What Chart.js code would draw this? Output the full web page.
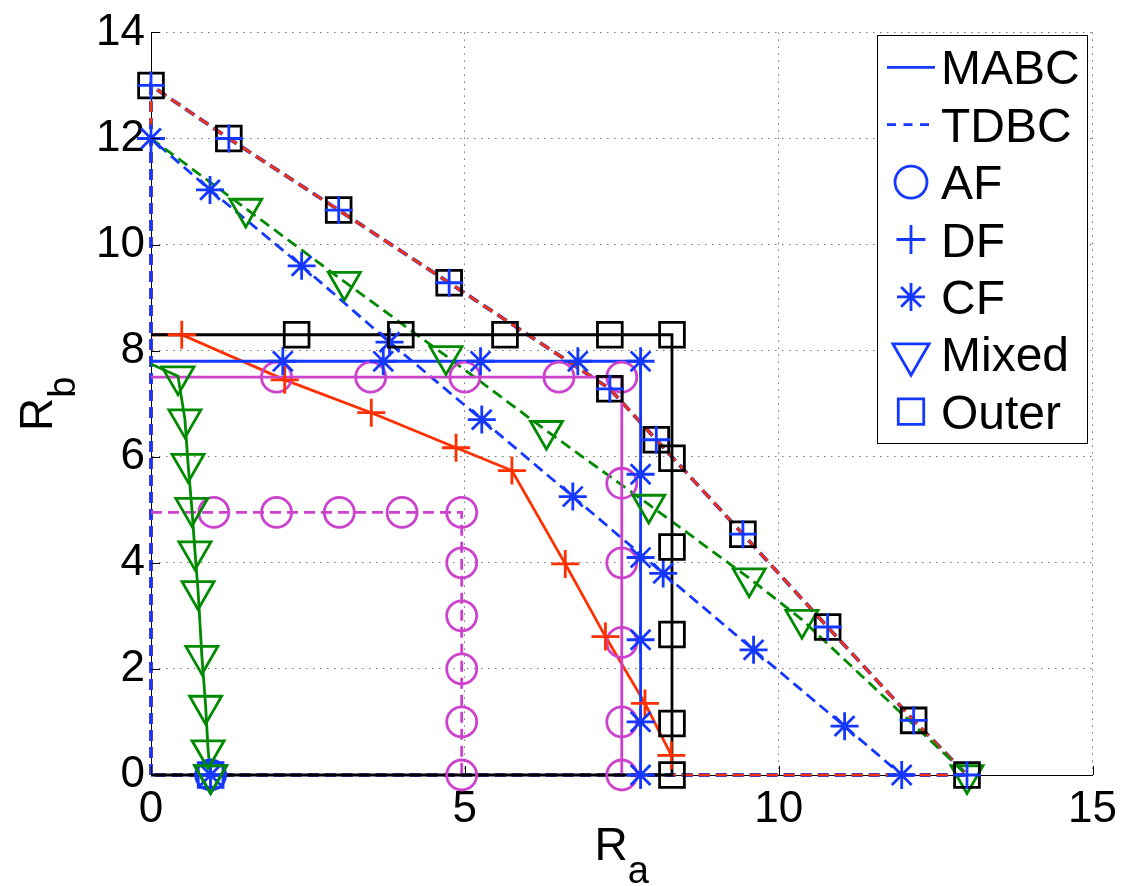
<!DOCTYPE html>
<html>
<head>
<meta charset="utf-8">
<script src="https://cdn.jsdelivr.net/npm/chart.js@4.4.1/dist/chart.umd.min.js"></script>
<style>
  html, body { margin: 0; padding: 0; background: #fff; }
  #wrap { width: 1125px; height: 886px; }
</style>
</head>
<body>
<div id="wrap"><canvas id="c" width="1125" height="886"></canvas></div>
<script>
// ---- axis ticks ----
const xTicks = [0, 5, 10, 15];
const yTicks = [0, 2, 4, 6, 8, 10, 12, 14];

// ---- MABC rate regions (solid lines) ----
const afMabcPath = [[0, 7.5], [7.5, 7.5], [7.5, 0]];
const afMabcPts = [[2, 7.5], [3.5, 7.5], [5, 7.5], [6.5, 7.5], [7.5, 7.5],
                   [7.5, 5.5], [7.5, 4], [7.5, 2.5], [7.5, 1], [7.5, 0]];

const cfMabcPath = [[0, 7.8], [7.8, 7.8], [7.8, 0]];
const cfMabcPts = [[2.1, 7.8], [3.7, 7.8], [5.25, 7.8], [6.8, 7.8], [7.8, 7.8],
                   [7.8, 5.67], [7.8, 4.1], [7.8, 2.55], [7.8, 1.0], [7.8, 0]];

const outerMabcPath = [[0, 8.3], [8.3, 8.3], [8.3, 0], [0, 0]];
const outerMabcPts = [[2.32, 8.3], [3.98, 8.3], [5.64, 8.3], [7.31, 8.3], [8.3, 8.3],
                      [8.3, 5.97], [8.3, 4.3], [8.3, 2.65], [8.3, 0.97], [8.3, 0]];

const dfMabcStart = [[0, 8.3]];
const dfMabcPts = [[0.49, 8.3], [2.13, 7.45], [3.51, 6.83], [4.86, 6.17], [5.75, 5.74],
                   [6.6, 3.98], [7.24, 2.61], [7.87, 1.35], [8.29, 0.37]];

const mixedMabcStart = [[0, 7.75]];
const mixedMabcPts = [[0.43, 7.52], [0.54, 6.71], [0.59, 5.87], [0.65, 5.04], [0.7, 4.22],
                      [0.75, 3.47], [0.81, 2.25], [0.87, 1.31], [0.91, 0.47], [0.95, 0]];

// ---- TDBC rate regions (dashed lines) ----
const afTdbcPath = [[0, 4.95], [4.95, 4.95], [4.95, 0]];
const afTdbcPts = [[1, 4.95], [2, 4.95], [3, 4.95], [4, 4.95], [4.95, 4.95],
                   [4.95, 4], [4.95, 3], [4.95, 2], [4.95, 1], [4.95, 0]];

const cfTdbcPts = [[0, 12], [0.94, 11.03], [2.4, 9.6], [3.8, 8.16], [5.27, 6.7],
                   [6.72, 5.25], [8.16, 3.8], [9.6, 2.36], [11.05, 0.92], [11.96, 0]];

const mixedTdbcStart = [[0, 12]];
const mixedTdbcPts = [[1.51, 10.68], [3.08, 9.3], [4.7, 7.9], [6.3, 6.49], [7.93, 5.1],
                      [9.53, 3.71], [10.37, 2.93], [13, 0]];

const outerTdbcPts = [[0, 13], [1.24, 12], [2.99, 10.65], [4.75, 9.28], [7.31, 7.28],
                      [8.05, 6.32], [9.43, 4.54], [10.78, 2.79], [12.15, 1.03], [13, 0]];

const origin = [[0, 0]];

// ---- legend keys, plotted at a single point ----
const keyPoint = [[0.95, 0]];
const legendLabels = ['MABC', 'TDBC', 'AF', 'DF', 'CF', 'Mixed', 'Outer'];
const legendKinds = ['solid', 'dashed', 'circle', 'cross', 'star', 'triangle', 'rect'];

// ---- colours ----
const BLUE = '#1438ff', RED = '#ff3000', MAG = '#cc42cc', GREEN = '#008a00', BLACK = '#000000';
const DASH = [11, 6];
const LW = 2.8;
const FONT = "'Liberation Sans', Arial, Helvetica, sans-serif";

function pathSet(data, color, dashed, width) {
  return { data, showLine: true, borderColor: color, borderWidth: width || LW,
           borderDash: dashed ? DASH : [], pointRadius: 0, pointHoverRadius: 0,
           fill: false, tension: 0, clip: false };
}
function markSet(data, color, style, radius, rot) {
  return { data, showLine: false, pointStyle: style, pointRadius: radius, pointHoverRadius: radius,
           pointRotation: rot || 0, pointBorderColor: color, pointBackgroundColor: 'rgba(0,0,0,0)',
           pointBorderWidth: LW, borderColor: color, clip: false };
}

// bottom to top
const layers = [
  pathSet([...origin, ...outerTdbcPts, ...origin], BLUE, true, 3.8),
  pathSet([...origin, ...outerTdbcPts, ...origin], RED, true, 2.6),
  pathSet([...origin, ...cfTdbcPts], BLUE, true),
  pathSet([...mixedTdbcStart, ...mixedTdbcPts], GREEN, true),
  pathSet(afTdbcPath, MAG, true),
  pathSet([...dfMabcStart, ...dfMabcPts], RED, false),
  pathSet(afMabcPath, MAG, false),
  pathSet(cfMabcPath, BLUE, false),
  pathSet([...mixedMabcStart, ...mixedMabcPts], GREEN, false),
  pathSet(outerMabcPath, BLACK, false),
  markSet(keyPoint, BLUE, 'circle', 15),
  markSet(keyPoint, BLUE, 'rect', 17.5),
  markSet(keyPoint, BLUE, 'star', 14),
  markSet(keyPoint, BLUE, 'cross', 14),
  markSet(keyPoint, BLUE, 'triangle', 18.5, 180),
  markSet(afTdbcPts, MAG, 'circle', 15),
  markSet(afMabcPts, MAG, 'circle', 15),
  markSet(dfMabcPts, RED, 'cross', 14),
  markSet(cfTdbcPts, BLUE, 'star', 14),
  markSet(cfMabcPts, BLUE, 'star', 14),
  markSet(mixedTdbcPts, GREEN, 'triangle', 18.5, 180),
  markSet(mixedMabcPts, GREEN, 'triangle', 18.5, 180),
  markSet(outerTdbcPts, BLACK, 'rect', 17.5),
  markSet(outerTdbcPts, BLUE, 'cross', 14),
  markSet(outerMabcPts, BLACK, 'rect', 17.5)
];
layers.forEach((d, i) => { d.order = layers.length - i; });

function drawMarker(ctx, kind, x, y, r, color) {
  ctx.save();
  ctx.strokeStyle = color; ctx.lineWidth = LW; ctx.setLineDash([]);
  ctx.beginPath();
  if (kind === 'circle') {
    ctx.arc(x, y, r, 0, Math.PI * 2);
  } else if (kind === 'cross') {
    ctx.moveTo(x - r, y); ctx.lineTo(x + r, y); ctx.moveTo(x, y - r); ctx.lineTo(x, y + r);
  } else if (kind === 'star') {
    const d = r * Math.SQRT1_2;
    ctx.moveTo(x - r, y); ctx.lineTo(x + r, y); ctx.moveTo(x, y - r); ctx.lineTo(x, y + r);
    ctx.moveTo(x - d, y - d); ctx.lineTo(x + d, y + d); ctx.moveTo(x - d, y + d); ctx.lineTo(x + d, y - d);
  } else if (kind === 'triangle') {
    const h = r * Math.sqrt(3) / 2;
    ctx.moveTo(x - h, y - r / 2); ctx.lineTo(x + h, y - r / 2); ctx.lineTo(x, y + r); ctx.closePath();
  } else if (kind === 'rect') {
    const s = r * Math.SQRT1_2;
    ctx.rect(x - s, y - s, 2 * s, 2 * s);
  }
  ctx.stroke();
  ctx.restore();
}

function drawSubscripted(ctx, main, sub, x, y, mainSize, subSize, drop) {
  ctx.font = mainSize + 'px ' + FONT;
  const wMain = ctx.measureText(main).width;
  ctx.font = subSize + 'px ' + FONT;
  const wSub = ctx.measureText(sub).width;
  const start = x - (wMain + wSub) / 2;
  ctx.textAlign = 'left'; ctx.textBaseline = 'alphabetic';
  ctx.font = mainSize + 'px ' + FONT;
  ctx.fillText(main, start, y);
  ctx.font = subSize + 'px ' + FONT;
  ctx.fillText(sub, start + wMain, y + drop);
}

const decor = {
  id: 'decor',
  afterDraw(chart) {
    const { ctx, chartArea: a, scales } = chart;
    const sx = scales.x, sy = scales.y;
    ctx.save();

    // inward tick marks
    ctx.strokeStyle = '#000'; ctx.lineWidth = 1; ctx.setLineDash([]);
    ctx.beginPath();
    yTicks.forEach(v => {
      const py = Math.round(sy.getPixelForValue(v)) + 0.5;
      ctx.moveTo(a.left, py); ctx.lineTo(a.left + 9, py);
    });
    xTicks.forEach(v => {
      const px = Math.round(sx.getPixelForValue(v)) + 0.5;
      ctx.moveTo(px, a.bottom); ctx.lineTo(px, a.bottom - 9);
    });
    ctx.stroke();

    // axis titles
    ctx.fillStyle = '#000';
    drawSubscripted(ctx, 'R', 'a', (a.left + a.right) / 2, a.bottom + 85, 46, 38, 23);
    ctx.save();
    ctx.translate(52, (a.top + a.bottom) / 2);
    ctx.rotate(-Math.PI / 2);
    drawSubscripted(ctx, 'R', 'b', 0, 0, 46, 38, 23);
    ctx.restore();

    // legend box
    const bx = 877.5, by = 35.5, bw = 210, bh = 408;
    ctx.fillStyle = '#fff';
    ctx.fillRect(bx, by, bw, bh);
    ctx.strokeStyle = '#000'; ctx.lineWidth = 1;
    ctx.strokeRect(bx, by, bw, bh);
    const sizes = { circle: 16, cross: 14.5, star: 14, triangle: 21, rect: 18 };
    legendLabels.forEach((label, i) => {
      const base = 84.3 + i * 57.4;
      const cy = base - 17;
      const kind = legendKinds[i];
      if (kind === 'solid' || kind === 'dashed') {
        ctx.save();
        ctx.strokeStyle = BLUE; ctx.lineWidth = LW;
        ctx.setLineDash(kind === 'dashed' ? [9, 7.5] : []);
        ctx.beginPath(); ctx.moveTo(887, cy); ctx.lineTo(935, cy); ctx.stroke();
        ctx.restore();
      } else {
        drawMarker(ctx, kind, 911, cy, sizes[kind], BLUE);
      }
      ctx.fillStyle = '#000';
      ctx.font = '48px ' + FONT;
      ctx.textAlign = 'left'; ctx.textBaseline = 'alphabetic';
      ctx.fillText(label, 941, base);
    });

    ctx.restore();
  }
};

const gridStyle = { color: 'rgba(0,0,0,0.55)', lineWidth: 1, drawTicks: false };
const borderStyle = { display: true, color: '#000', width: 1, dash: [1.5, 5.5] };

new Chart(document.getElementById('c'), {
  type: 'scatter',
  data: { datasets: layers },
  options: {
    responsive: false,
    animation: false,
    events: [],
    devicePixelRatio: 1,
    layout: { padding: { left: 0, top: 27, right: 30, bottom: 0 } },
    plugins: { legend: { display: false }, tooltip: { enabled: false } },
    scales: {
      x: {
        type: 'linear',
        min: xTicks[0], max: xTicks[xTicks.length - 1],
        afterFit(scale) { scale.height = 111; },
        afterBuildTicks(scale) { scale.ticks = xTicks.map(v => ({ value: v })); },
        grid: gridStyle,
        border: borderStyle,
        ticks: { padding: 8, color: '#000', font: { family: FONT, size: 44 }, maxRotation: 0 }
      },
      y: {
        type: 'linear',
        min: yTicks[0], max: yTicks[yTicks.length - 1],
        afterFit(scale) { scale.width = 151; },
        afterBuildTicks(scale) { scale.ticks = yTicks.map(v => ({ value: v })); },
        grid: gridStyle,
        border: borderStyle,
        ticks: { padding: 6, color: '#000', font: { family: FONT, size: 44 } }
      }
    }
  },
  plugins: [decor]
});
</script>
</body>
</html>
